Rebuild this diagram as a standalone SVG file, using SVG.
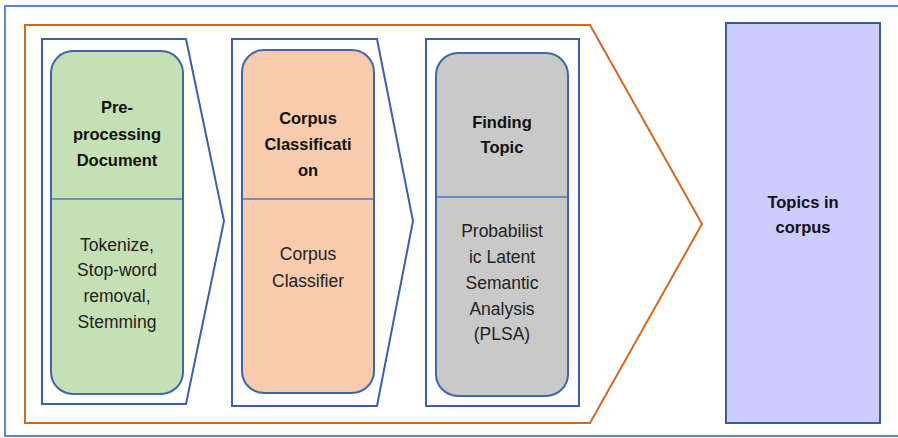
<svg xmlns="http://www.w3.org/2000/svg" width="898" height="438" viewBox="0 0 898 438">
  <style>
    .frame { fill: #ffffff; stroke: #5b86d2; stroke-width: 2; }
    .flow { fill: none; stroke: #d2691e; stroke-width: 2; }
    .stage { fill: #ffffff; stroke: #3a60a8; stroke-width: 2; }
    .card { stroke: #3e66ad; stroke-width: 2; }
    .divider { stroke: #4a78c8; stroke-width: 1.6; }
    .title { font-family: "Liberation Sans", Arial, sans-serif; font-size: 16.5px; font-weight: bold; fill: #111111; text-anchor: middle; }
    .body { font-family: "Liberation Sans", Arial, sans-serif; font-size: 17.5px; fill: #222222; text-anchor: middle; }
  </style>

  <!-- outer frame -->
  <rect class="frame" x="5" y="6" width="900" height="430"/>

  <g id="connectors">
    <!-- large orange arrow enclosing the three processing stages -->
    <polygon class="flow" points="25,25 590,25 702,224 590,423 25,423"/>
  </g>

  <!-- stage 1: pre-processing -->
  <g id="preprocessing">
    <polygon class="stage" points="42,39 186,39 224,221 186,404 42,404"/>
    <rect class="card" x="51" y="51" width="132" height="343" rx="22" fill="#c5e0b4"/>
    <line class="divider" x1="52" y1="199" x2="182" y2="199"/>
    <text class="title" x="117" y="113">Pre-</text>
    <text class="title" x="117" y="140">processing</text>
    <text class="title" x="117" y="166">Document</text>
    <text class="body" x="117" y="251">Tokenize,</text>
    <text class="body" x="117" y="276">Stop-word</text>
    <text class="body" x="117" y="302">removal,</text>
    <text class="body" x="117" y="328">Stemming</text>
  </g>

  <!-- stage 2: corpus classification -->
  <g id="classification">
    <polygon class="stage" points="232,39 377,39 413,221 377,406 232,406"/>
    <rect class="card" x="242" y="50" width="132" height="343" rx="22" fill="#f8cbad"/>
    <line class="divider" x1="243" y1="199" x2="373" y2="199"/>
    <text class="title" x="308" y="124">Corpus</text>
    <text class="title" x="308" y="150">Classificati</text>
    <text class="title" x="308" y="176">on</text>
    <text class="body" x="308" y="260">Corpus</text>
    <text class="body" x="308" y="287">Classifier</text>
  </g>

  <!-- stage 3: finding topic -->
  <g id="finding-topic">
    <rect class="stage" x="426" y="39" width="153" height="367"/>
    <rect class="card" x="436" y="53" width="132" height="343" rx="22" fill="#c9c9c9"/>
    <line class="divider" x1="437" y1="197" x2="567" y2="197"/>
    <text class="title" x="502" y="128">Finding</text>
    <text class="title" x="502" y="153">Topic</text>
    <text class="body" x="502" y="237">Probabilist</text>
    <text class="body" x="502" y="263">ic Latent</text>
    <text class="body" x="502" y="289">Semantic</text>
    <text class="body" x="502" y="315">Analysis</text>
    <text class="body" x="502" y="340">(PLSA)</text>
  </g>

  <!-- result -->
  <g id="topics">
    <rect x="726" y="23" width="154" height="400" fill="#ccccff" stroke="#3a5a9c" stroke-width="2"/>
    <text class="title" x="803" y="208">Topics in</text>
    <text class="title" x="803" y="233">corpus</text>
  </g>
</svg>
